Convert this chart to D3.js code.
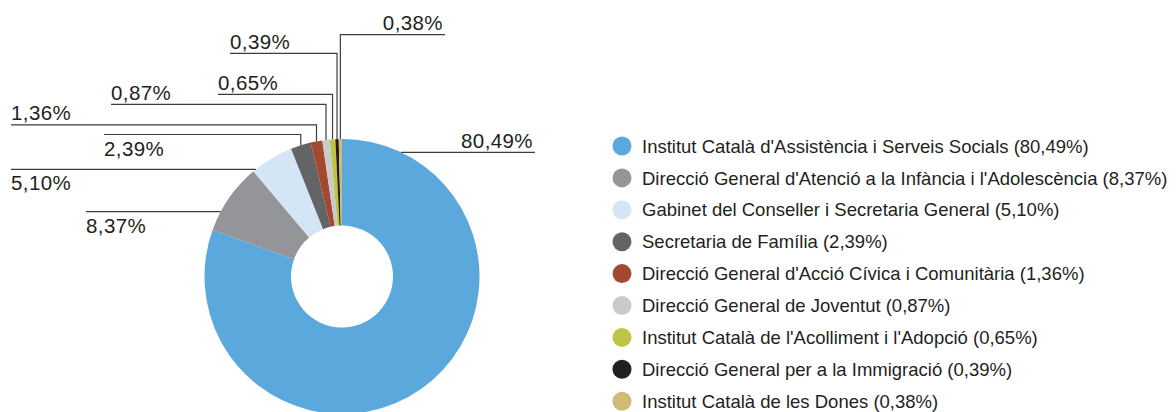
<!DOCTYPE html>
<html>
<head>
<meta charset="utf-8">
<script src="https://cdn.jsdelivr.net/npm/d3@7"></script>
<style>
  body { margin: 0; background: #fff; }
  text { font-family: "Liberation Sans", Arial, Helvetica, sans-serif; fill: #231f20; }
</style>
</head>
<body>
<svg id="chart"></svg>
<script>
// data
var categories = [
  "Institut Català d'Assistència i Serveis Socials",
  "Direcció General d'Atenció a la Infància i l'Adolescència",
  "Gabinet del Conseller i Secretaria General",
  "Secretaria de Família",
  "Direcció General d'Acció Cívica i Comunitària",
  "Direcció General de Joventut",
  "Institut Català de l'Acolliment i l'Adopció",
  "Direcció General per a la Immigració",
  "Institut Català de les Dones"
];
var values = [80.49, 8.37, 5.10, 2.39, 1.36, 0.87, 0.65, 0.39, 0.38];
var colors = ["#5ba8dc", "#939598", "#d4e5f5", "#636466", "#a2492f", "#c9cacc", "#bdc545", "#231f20", "#d3b978"];

// label placement: y of leader line, far end x, text above/below, vertical drop?
var labelY    = [152.3, 211.7, 169.3, 134.5, 124.8, 104.3, 94.3, 53.3, 34.7];
var labelEndX = [535, 86, 11, 104, 11, 111, 218, 230, 445];
var labelPos  = ["above", "below", "below", "below", "above", "above", "above", "above", "above"];
var labelDrop = [false, false, false, true, true, true, true, true, true];

var w = 1176, h = 412;
var cx = 342, cy = 276.5, R = 137.5, r0 = 51;

var fmt = function(v) { return v.toFixed(2).replace(".", ",") + "%"; };

var svg = d3.select("#chart").attr("width", w).attr("height", h);

var pie = d3.pie().sort(null).value(function(d) { return d; });
var arcs = pie(values);
var arc = d3.arc().innerRadius(r0).outerRadius(R);
var edge = d3.arc().innerRadius(R).outerRadius(R);

var g = svg.append("g").attr("transform", "translate(" + cx + "," + cy + ")");

g.selectAll("path")
  .data(arcs)
  .enter()
  .append("path")
  .attr("d", arc)
  .attr("fill", function(d, i) { return colors[i]; });

// leader lines + labels
var lab = svg.append("g");
arcs.forEach(function(d, i) {
  var ly = labelY[i], fx = labelEndX[i];
  var pts;
  if (labelDrop[i]) {
    var c = edge.centroid(d);
    var vx = cx + c[0];
    var vy = cy - Math.sqrt(R * R - c[0] * c[0]);
    pts = [[fx, ly], [vx, ly], [vx, vy]];
  } else {
    var dy = ly - cy;
    var dx = Math.sqrt(R * R - dy * dy);
    var sx = fx > cx ? cx + dx : cx - dx;
    pts = [[fx, ly], [sx, ly]];
  }
  lab.append("path")
    .attr("d", d3.line()(pts))
    .attr("fill", "none")
    .attr("stroke", "#3d3d3f")
    .attr("stroke-width", 1.2);

  var right = fx > cx;
  lab.append("text")
    .attr("x", right ? fx - 2 : fx)
    .attr("y", labelPos[i] == "above" ? ly - 4.5 : ly + 21)
    .attr("text-anchor", right ? "end" : "start")
    .attr("font-size", 20.5)
    .attr("letter-spacing", 0.4)
    .text(fmt(values[i]));
});

// legend
var leg = svg.append("g").attr("transform", "translate(622,146)");
var rows = leg.selectAll("g")
  .data(categories)
  .enter()
  .append("g")
  .attr("transform", function(d, i) { return "translate(0," + (i * 31.9) + ")"; });

rows.append("circle")
  .attr("r", 9.5)
  .attr("fill", function(d, i) { return colors[i]; });

rows.append("text")
  .attr("x", 20)
  .attr("dy", "0.36em")
  .attr("font-size", 18.5)
  .text(function(d, i) { return d + " (" + fmt(values[i]) + ")"; });
</script>
</body>
</html>
